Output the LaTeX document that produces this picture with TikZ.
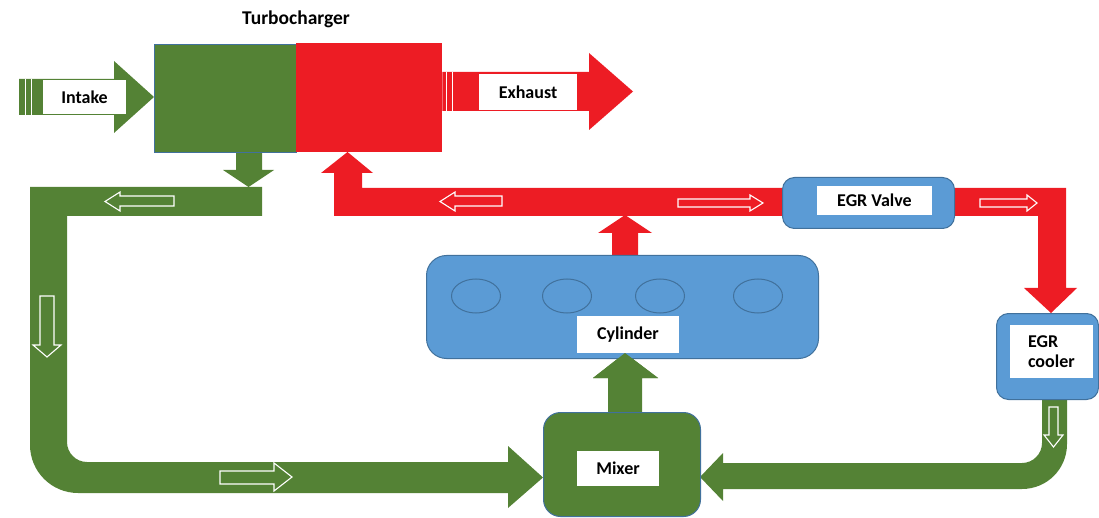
\documentclass[tikz,border=0pt]{standalone}
\usepackage{fontspec}
\setmainfont{Carlito}
\usetikzlibrary{shapes.geometric}
\definecolor{pg}{RGB}{84,130,53}
\definecolor{pr}{RGB}{237,28,36}
\definecolor{pb}{RGB}{91,155,213}
\definecolor{pbd}{RGB}{65,113,156}
\begin{document}
\begin{tikzpicture}[x=1pt,y=-1pt,
  lbl/.style={font=\fontsize{18}{20}\selectfont\bfseries, text=black},
  whitebox/.style={fill=white, inner sep=0pt, lbl},
  unitbox/.style={fill=pb, draw=pbd, line width=1pt, inner sep=0pt, anchor=north west},
  hollow/.style={draw=white, line width=1.1pt, line join=miter},
  stripe/.style={draw=white, line width=1pt}]
\useasboundingbox (0,0) rectangle (1099,518);

% ---------- pipes (drawn first) ----------
% green down arrow from compressor
\fill[pg] (236,151) -- (262,151) -- (262,170) -- (274,170) -- (248.5,187) -- (223,170) -- (236,170) -- cycle;
% green loop to mixer
\fill[pg] (262,187) -- (30,187) -- (30,445) .. controls (30,471.5) and (51.5,493) .. (78,493)
  -- (508,493) -- (508,508) -- (543,477.5) -- (508,446) -- (508,462) -- (87,462)
  .. controls (76,462) and (67,453) .. (67,442) -- (67,216) -- (262,216) -- cycle;
% green from EGR cooler to mixer
\fill[pg] (1042,398) -- (1067,398) -- (1067,444) .. controls (1067,469) and (1047,489) .. (1022,489)
  -- (723,489) -- (723,501) -- (700,477) -- (723,453) -- (723,463) -- (1022,463)
  .. controls (1033,463) and (1042,454) .. (1042,443) -- cycle;
% green up arrow mixer -> cylinder
\fill[pg] (608,413) -- (642,413) -- (642,378) -- (658,378) -- (625,353) -- (593,378) -- (608,378) -- cycle;
% red bar to turbine
\fill[pr] (783,188) -- (362,188) -- (362,173) -- (373,173) -- (347.5,152) -- (321,173) -- (334,173) -- (334,216) -- (783,216) -- cycle;
% red up arrow cylinder -> bar
\fill[pr] (612,256) -- (638,256) -- (638,233) -- (652,233) -- (625,215) -- (598,233) -- (612,233) -- cycle;
% red bar to EGR cooler
\fill[pr] (953,188) -- (1066,188) -- (1066,288) -- (1077,288) -- (1051,313) -- (1024,288) -- (1038,288) -- (1038,216) -- (953,216) -- cycle;

% ---------- hollow flow arrows ----------
\draw[hollow] (174,196) -- (120,196) -- (120,192) -- (105,201.5) -- (120,211) -- (120,206) -- (174,206) -- cycle;
\draw[hollow] (502,196) -- (455,196) -- (455,192) -- (440,201.5) -- (455,211) -- (455,206) -- (502,206) -- cycle;
\draw[hollow] (678,199) -- (750,199) -- (750,195) -- (763,203) -- (750,211) -- (750,207) -- (678,207) -- cycle;
\draw[hollow] (980,199) -- (1027,199) -- (1027,195) -- (1037,203) -- (1027,211) -- (1027,207) -- (980,207) -- cycle;
\draw[hollow] (40,296) -- (54,296) -- (54,345) -- (61,345) -- (47,357) -- (33,345) -- (40,345) -- cycle;
\draw[hollow] (1049,407) -- (1058,407) -- (1058,435) -- (1063,435) -- (1053.5,447) -- (1044,435) -- (1049,435) -- cycle;
\draw[hollow] (220,471) -- (274,471) -- (274,463) -- (292,477) -- (274,491) -- (274,484) -- (220,484) -- cycle;

% ---------- turbocharger ----------
\node[anchor=north west, minimum width=142pt, minimum height=108pt, inner sep=0pt, fill=pg, draw=pbd, line width=0.8pt] (comp) at (154,44) {};
\node[anchor=north west, minimum width=146pt, minimum height=109pt, inner sep=0pt, fill=pr] (turb) at (296,43) {};
\node[lbl, font=\fontsize{19.5}{22}\selectfont\bfseries] (tclabel) at (296,19) {Turbocharger};

% intake arrow
\fill[pg] (19,79) -- (114,79) -- (114,61) -- (comp.west |- 0,97) -- (114,133) -- (114,115) -- (19,115) -- cycle;
\draw[stripe] (25,79) -- (25,115) (31,79) -- (31,115);
\node[whitebox, minimum width=83pt, minimum height=34pt] (intake) at (84.5,97) {Intake};

% exhaust arrow
\fill[pr] (turb.east |- 0,72) -- (589,72) -- (589,53) -- (633,91.5) -- (589,130) -- (589,111) -- (turb.east |- 0,111) -- cycle;
\draw[stripe] (446,72) -- (446,111) (452,72) -- (452,111);
\node[whitebox, minimum width=98pt, minimum height=36pt] (exhaust) at (528,92) {Exhaust};

% ---------- cylinder ----------
\node[unitbox, rounded corners=20pt, minimum width=392pt, minimum height=103pt] (cyl) at (426,255) {};
\foreach \cx [count=\i] in {476,567,660,758}
  \node[draw=pbd, line width=1pt, ellipse, minimum width=49pt, minimum height=34pt, inner sep=0pt] (bore\i) at (\cx,296) {};
\node[whitebox, minimum width=102pt, minimum height=37pt] (cyllabel) at (628,334.5) {Cylinder};
% green arrow tip over label
\fill[pg] (608,378) -- (658,378) -- (625,353) -- (593,378) -- cycle;

% ---------- EGR valve ----------
\node[unitbox, rounded corners=12pt, minimum width=172pt, minimum height=51pt] (valve) at (782,177) {};
\node[whitebox, minimum width=115pt, minimum height=29pt] (valvelabel) at (874.5,200.5) {EGR Valve};

% ---------- EGR cooler ----------
\node[unitbox, rounded corners=12pt, minimum width=102pt, minimum height=86pt] (cooler) at (996,313) {};
\node[whitebox, minimum width=83pt, minimum height=53pt, text width=47pt, align=left, inner xsep=0pt] (coolerlabel) at (1051.5,351.5) {EGR\\cooler};

% ---------- mixer ----------
\node[unitbox, fill=pg, rounded corners=17pt, minimum width=157pt, minimum height=104pt] (mixer) at (543,412) {};
\node[whitebox, minimum width=82pt, minimum height=35pt] (mixerlabel) at (618,468.5) {Mixer};
\end{tikzpicture}
\end{document}
